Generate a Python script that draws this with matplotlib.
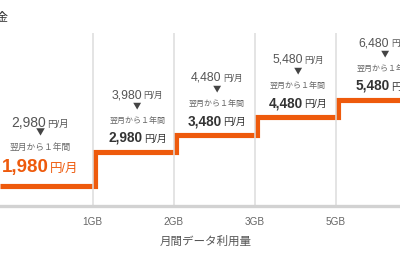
import matplotlib.pyplot as plt
import numpy as np

plt.rcParams["font.family"] = ["Liberation Sans", "Noto Sans CJK JP", "DejaVu Sans"]

# data
tick_labels = ["1GB", "2GB", "3GB", "5GB"]
regular_prices = [2980, 3980, 4480, 5480, 6480]
first_year_prices = [1980, 2980, 3480, 4480, 5480]
step_heights = [20, 54, 71, 89, 106]  # visual height of each price tier
x_label = "月間データ利用量"
y_title = "料金"
discount_note = "翌月から１年間"

ORANGE = "#EE5A0C"
DARK = "#333333"
GRAY = "#555555"

XMIN, XMAX = -0.143, 4.789
label_x = [0.35, 1.55, 2.53, 3.53, 4.6]

fig = plt.figure(figsize=(4, 2.6), dpi=100)
ax = fig.add_axes([0, 54 / 260, 1, 206 / 260])
ax.set_xlim(XMIN, XMAX)
ax.set_ylim(0, 206)
for spine in ax.spines.values():
    spine.set_visible(False)

ticks = np.arange(1, len(tick_labels) + 1)
ax.vlines(ticks, 0, 173, color="#dddddd", lw=1.1)
ax.axhline(0, color="#d2d2d2", lw=2.4, clip_on=False)
ax.set_yticks([])
ax.set_xticks(ticks, tick_labels)
ax.tick_params(axis="x", length=0, pad=8, labelsize=7.2, labelcolor="#666666")
ax.set_xlabel(x_label, fontsize=8.3, color="#555555")
ax.xaxis.set_label_coords(0.515, -0.175)
ax.xaxis.label.set_va("center")

edges = np.r_[XMIN, ticks + 0.03, XMAX]
ax.stairs(step_heights, edges, baseline=None, color=ORANGE, lw=3.7, joinstyle="miter")

fig.text(8.5 / 400, 1 - 18 / 260, y_title, ha="right", va="center", fontsize=8.3, color=DARK)

renderer = fig.canvas.get_renderer()


def price_label(x, level, dy, value, num_size, unit_size, color, bold):
    kw = dict(xycoords="data", textcoords="offset pixels", va="baseline", ha="left",
              color=color, annotation_clip=False)
    t1 = ax.annotate(f"{value:,}", (x, level), xytext=(0, dy), fontsize=num_size,
                     fontweight="bold" if bold else "normal", **kw)
    t2 = ax.annotate("円/月", (x, level), xytext=(0, dy), fontsize=unit_size, **kw)
    w1 = t1.get_window_extent(renderer).width
    w2 = t2.get_window_extent(renderer).width
    gap = 1.5
    start = -(w1 + gap + w2) / 2
    t1.xyann = (start, dy)
    t2.xyann = (start + w1 + gap, dy)


for i, (reg, first, level) in enumerate(zip(regular_prices, first_year_prices, step_heights)):
    x = label_x[i]
    big = i == 0
    price_label(x, level, 59 if big else 54, reg, 10 if big else 8.8, 6.8 if big else 6.2, GRAY, False)
    ax.annotate("▼", (x, level), xytext=(0, 53 if big else 46), textcoords="offset pixels",
                ha="center", va="center", fontsize=6.5 if big else 6, color="#444444",
                family="Noto Sans CJK JP")
    ax.annotate(discount_note, (x, level), xytext=(0, 39 if big else 31), textcoords="offset pixels",
                ha="center", va="center", fontsize=6.3 if big else 5.8, color="#666666")
    if big:
        price_label(x, level, 14, first, 13.5, 9, ORANGE, True)
    else:
        price_label(x, level, 10, first, 9.8, 7.2, DARK, True)

fig.savefig("out.png", dpi=100)
